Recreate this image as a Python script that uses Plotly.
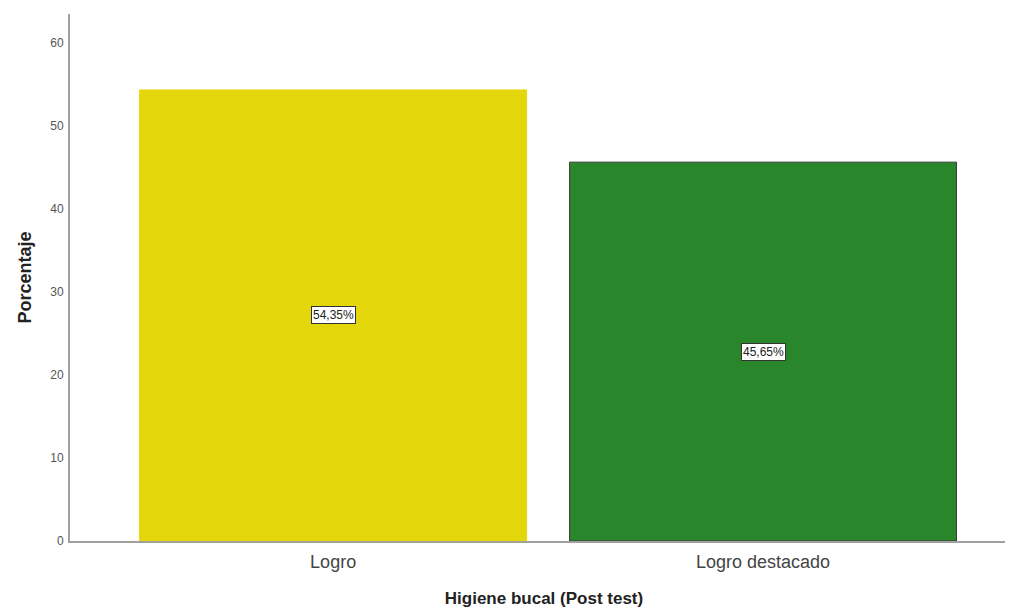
import plotly.graph_objects as go

categories = ["Logro", "Logro destacado"]
values = [54.35, 45.65]
labels = ["54,35%", "45,65%"]
colors = ["#E3D70C", "#2A862A"]
outline = ["#E3D70C", "#3A3A3A"]
y_ticks = [0, 10, 20, 30, 40, 50, 60]

fig = go.Figure()
fig.add_trace(go.Bar(
    x=categories, y=values, width=0.9,
    marker=dict(color=colors, line=dict(color=outline, width=1)),
    hoverinfo="skip", showlegend=False,
))

for c, v, t in zip(categories, values, labels):
    fig.add_annotation(
        x=c, y=v / 2, text=t, showarrow=False,
        font=dict(family="Arial, Liberation Sans", size=12, color="#222"),
        bgcolor="white", bordercolor="#333", borderwidth=1, borderpad=1,
    )

fig.update_layout(
    width=1013, height=609,
    margin=dict(l=62, r=3, t=6, b=76),
    plot_bgcolor="white", paper_bgcolor="white",
    font=dict(family="Arial, Liberation Sans"),
    xaxis=dict(
        range=[-0.612, 1.593], showline=True, linecolor="#A0A0A0", linewidth=2,
        ticks="", tickfont=dict(size=18, color="#444"), ticklabelstandoff=3,
        title=dict(text="<b>Higiene bucal (Post test)</b>", font=dict(size=17, color="#222"), standoff=22),
        showgrid=False,
    ),
    yaxis=dict(
        range=[0, 63.5], tickvals=y_ticks, showline=True, linecolor="#A0A0A0", linewidth=2,
        ticks="", tickfont=dict(size=12, color="#555"), showgrid=False, zeroline=False,
        ticklabelstandoff=2,
        title=dict(text="<b>Porcentaje</b>", font=dict(size=18, color="#222"), standoff=14),
    ),
    bargap=0.1,
)

fig.write_html("out.html")
